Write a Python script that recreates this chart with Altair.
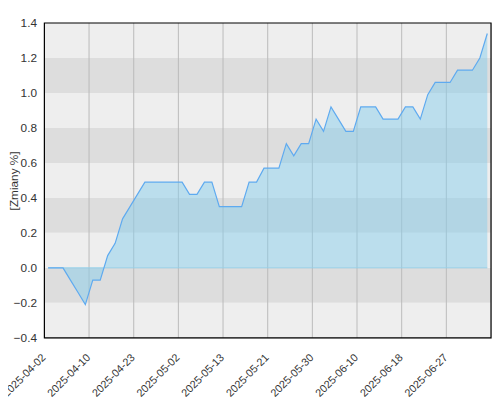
import altair as alt
import pandas as pd

# Daily change values (%), one per trading day, 60 points
values = [0, 0, 0, -0.07, -0.14, -0.21, -0.07, -0.07, 0.07, 0.14,
          0.28, 0.35, 0.42, 0.49, 0.49, 0.49, 0.49, 0.49, 0.49, 0.42,
          0.42, 0.49, 0.49, 0.35, 0.35, 0.35, 0.35, 0.49, 0.49, 0.57,
          0.57, 0.57, 0.71, 0.64, 0.71, 0.71, 0.85, 0.78, 0.92, 0.85,
          0.78, 0.78, 0.92, 0.92, 0.92, 0.85, 0.85, 0.85, 0.92, 0.92,
          0.85, 0.99, 1.06, 1.06, 1.06, 1.13, 1.13, 1.13, 1.20, 1.34]

# Tick labels: one every 6 trading days
tick_labels = ["2025-04-02", "2025-04-10", "2025-04-23", "2025-05-02", "2025-05-13",
               "2025-05-21", "2025-05-30", "2025-06-10", "2025-06-18", "2025-06-27"]
tick_step = 6

y_ticks = [-0.4, -0.2, 0.0, 0.2, 0.4, 0.6, 0.8, 1.0, 1.2, 1.4]

n = len(values)
df = pd.DataFrame({"i": list(range(n)), "v": values})

tick_pos = [k * tick_step - 0.5 for k in range(len(tick_labels))]
grid_df = pd.DataFrame({"t": tick_pos})

stripes = pd.DataFrame({
    "lo": y_ticks[:-1],
    "hi": y_ticks[1:],
    "c": ["#eeeeee" if k % 2 == 0 else "#dddddd" for k in range(len(y_ticks) - 1)],
})

frame_df = pd.DataFrame({"x0": [-0.5], "x1": [n - 0.5], "y0": [y_ticks[0]], "y1": [y_ticks[-1]]})
zero_df = pd.DataFrame({"a": [0], "b": [n - 1], "z": [0.0]})

label_arr = "[" + ",".join("'%s'" % s for s in tick_labels) + "]"
label_expr = "%s[round((datum.value + 0.5) / %d)]" % (label_arr, tick_step)

xscale = alt.Scale(domain=[-0.5, n - 0.5], nice=False, zero=False)
yscale = alt.Scale(domain=[y_ticks[0], y_ticks[-1]], nice=False, zero=False)

xaxis = alt.Axis(values=tick_pos, labelExpr=label_expr, labelAngle=315,
                 labelAlign="right", labelBaseline="top", labelPadding=14, labelOffset=-5,
                 labelFontSize=11, labelColor="#333333", labelFont="Liberation Sans",
                 grid=False, ticks=False, domain=False, title=None, labelOverlap=False,
                 labelBound=False, labelFlush=False)
yaxis = alt.Axis(values=y_ticks, format=".1f", grid=False, ticks=False, domain=False,
                 labelPadding=8, labelFontSize=12, labelColor="#333333", labelOverlap=False,
                 labelFont="Liberation Sans", title="[Zmiany %]", titleFontSize=12,
                 titleFont="Liberation Sans", titleFontWeight="normal", titleColor="#333333",
                 titleAngle=270, titleAlign="center", titleBaseline="middle",
                 titleX=-31, titleY=160, labelFlush=False, labelBound=False)

bg = alt.Chart(stripes).mark_rect().encode(
    y=alt.Y("lo:Q", scale=yscale, axis=yaxis),
    y2="hi:Q",
    color=alt.Color("c:N", scale=None),
)

grid = alt.Chart(grid_df).mark_rule(color="#bbbbbb", strokeWidth=1).encode(
    x=alt.X("t:Q", scale=xscale, axis=xaxis),
)

area = alt.Chart(df).mark_area(color="#87ceeb", opacity=0.5).encode(
    x=alt.X("i:Q", scale=xscale, axis=xaxis),
    y=alt.Y("v:Q", scale=yscale, axis=yaxis),
    y2=alt.datum(0),
)

zero = alt.Chart(zero_df).mark_rule(color="#94cde6", strokeWidth=1).encode(
    x=alt.X("a:Q", scale=xscale, axis=xaxis), x2="b:Q",
    y=alt.Y("z:Q", scale=yscale, axis=yaxis),
)

line = alt.Chart(df).mark_line(color="#5eaaf0", strokeWidth=1.2).encode(
    x=alt.X("i:Q", scale=xscale, axis=xaxis),
    y=alt.Y("v:Q", scale=yscale, axis=yaxis),
)

frame = alt.Chart(frame_df).mark_rect(fill=None, stroke="black", strokeWidth=1.2).encode(
    x=alt.X("x0:Q", scale=xscale, axis=xaxis), x2="x1:Q",
    y=alt.Y("y0:Q", scale=yscale, axis=yaxis), y2="y1:Q",
)

chart = alt.layer(bg, grid, area, zero, line, frame).properties(
    width=454, height=320,
    autosize=alt.AutoSizeParams(type="none"),
    padding={"left": 37, "top": 12, "right": 1, "bottom": 60},
).configure_view(stroke=None).configure_axisY(labelOverlap=False).configure(background="white")

chart.save("out.html", embed_options={"renderer": "svg", "actions": False})
